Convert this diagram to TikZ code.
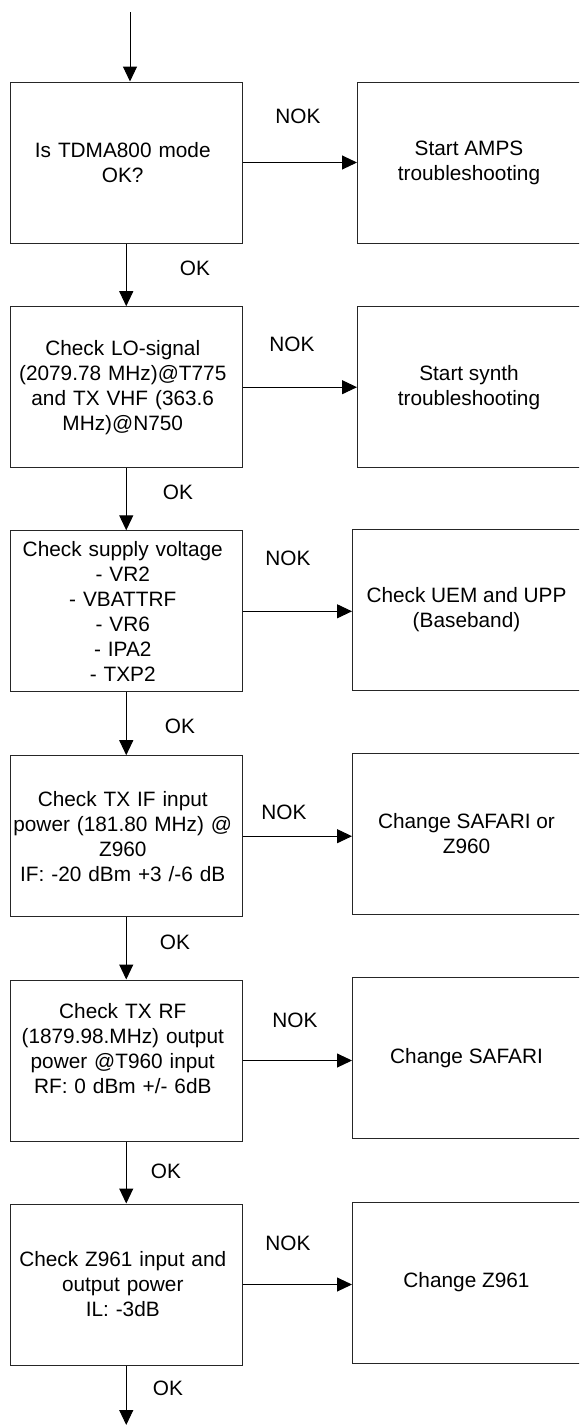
\documentclass[tikz,border=0pt]{standalone}
\usepackage{fontspec}
\setmainfont{Liberation Sans}
\usetikzlibrary{arrows.meta}
% centred lines, shifted slightly left inside the step boxes
\newcommand\steplines{\leftskip=0pt plus 1fil\rightskip=7pt plus 1fil
  \parfillskip=0pt\parindent=0pt\let\\\endgraf}
\begin{document}
\begin{tikzpicture}[x=1pt,y=-1pt,
  every node/.style={font=\fontsize{20.8}{25}\selectfont},
  stepbox/.style={draw=black!85, line width=1pt, minimum width=231.5pt,
    minimum height=161pt, inner sep=0pt, text width=231.5pt,
    execute at begin node=\steplines},
  actbox/.style={draw=black!85, line width=1pt, minimum height=161pt,
    inner sep=0pt, align=center, anchor=west},
  arr/.style={line width=1pt, -{Triangle[width=14pt,length=15pt]}},
  lbl/.style={inner sep=0pt}]
\useasboundingbox (0,0) rectangle (579,1425);
\clip (0,0) rectangle (579,1425);

% test steps (left column)
\node[stepbox] (b1) at (126.25,162.5) {Is TDMA800 mode\\OK?};
\node[stepbox] (b2) at (126.25,387.2) {Check LO-signal\\(2079.78 MHz)@T775\\and TX VHF (363.6\\MHz)@N750};
\node[stepbox] (b3) at (126.25,611.3) {Check supply voltage\\- VR2\\- VBATTRF\\- VR6\\- IPA2\\- TXP2};
\node[stepbox] (b4) at (126.25,836.2) {Check TX IF input\\power (181.80 MHz) @\\Z960\\IF: -20 dBm +3 /-6 dB};
\node[stepbox] (b5) at (126.25,1060.5) {Check TX RF\\(1879.98.MHz) output\\power @T960 input\\RF: 0 dBm +/- 6dB\\\mbox{}};
\node[stepbox] (b6) at (126.25,1284.5) {Check Z961 input and\\output power\\IL: -3dB};

% actions (right column)
\node[actbox, minimum width=223pt] (r1) at (357,162.5) {Start AMPS\\troubleshooting};
\node[actbox, minimum width=223pt] (r2) at (357,387.2) {Start synth\\troubleshooting};
\node[actbox, minimum width=228pt, minimum height=161.4pt] (r3) at (352,610) {Check UEM and UPP\\(Baseband)};
\node[actbox, minimum width=228pt] (r4) at (352,833.5) {Change SAFARI or\\Z960};
\node[actbox, minimum width=228pt] (r5) at (352,1058.3) {Change SAFARI};
\node[actbox, minimum width=228pt] (r6) at (352,1282.5) {Change Z961};

% main flow
\coordinate (start) at (130,12);
\coordinate (finish) at (126.25,1425);
\draw[arr] (start) -- (start |- b1.north);
\draw[arr] (b1.south) -- (b2.north);
\draw[arr] (b2.south) -- (b3.north);
\draw[arr] (b3.south) -- (b4.north);
\draw[arr] (b4.south) -- (b5.north);
\draw[arr] (b5.south) -- (b6.north);
\draw[arr] (b6.south) -- (finish);

% failure branches
\draw[arr] (b1.east) -- (b1.east -| r1.west);
\draw[arr] (b2.east) -- (b2.east -| r2.west);
\draw[arr] (b3.east) -- (b3.east -| r3.west);
\draw[arr] (b4.east) -- (b4.east -| r4.west);
\draw[arr] (b5.east) -- (b5.east -| r5.west);
\draw[arr] (b6.east) -- (b6.east -| r6.west);

% branch labels
\node[lbl] (n1) at (298,116) {NOK};
\node[lbl] (n2) at (292,344) {NOK};
\node[lbl] (n3) at (288,558) {NOK};
\node[lbl] (n4) at (284,812) {NOK};
\node[lbl] (n5) at (295,1020) {NOK};
\node[lbl] (n6) at (288,1243) {NOK};
\node[lbl] (o1) at (195,268) {OK};
\node[lbl] (o2) at (178,492) {OK};
\node[lbl] (o3) at (180,726) {OK};
\node[lbl] (o4) at (175,942) {OK};
\node[lbl] (o5) at (166,1171) {OK};
\node[lbl] (o6) at (168,1388) {OK};
\end{tikzpicture}
\end{document}
